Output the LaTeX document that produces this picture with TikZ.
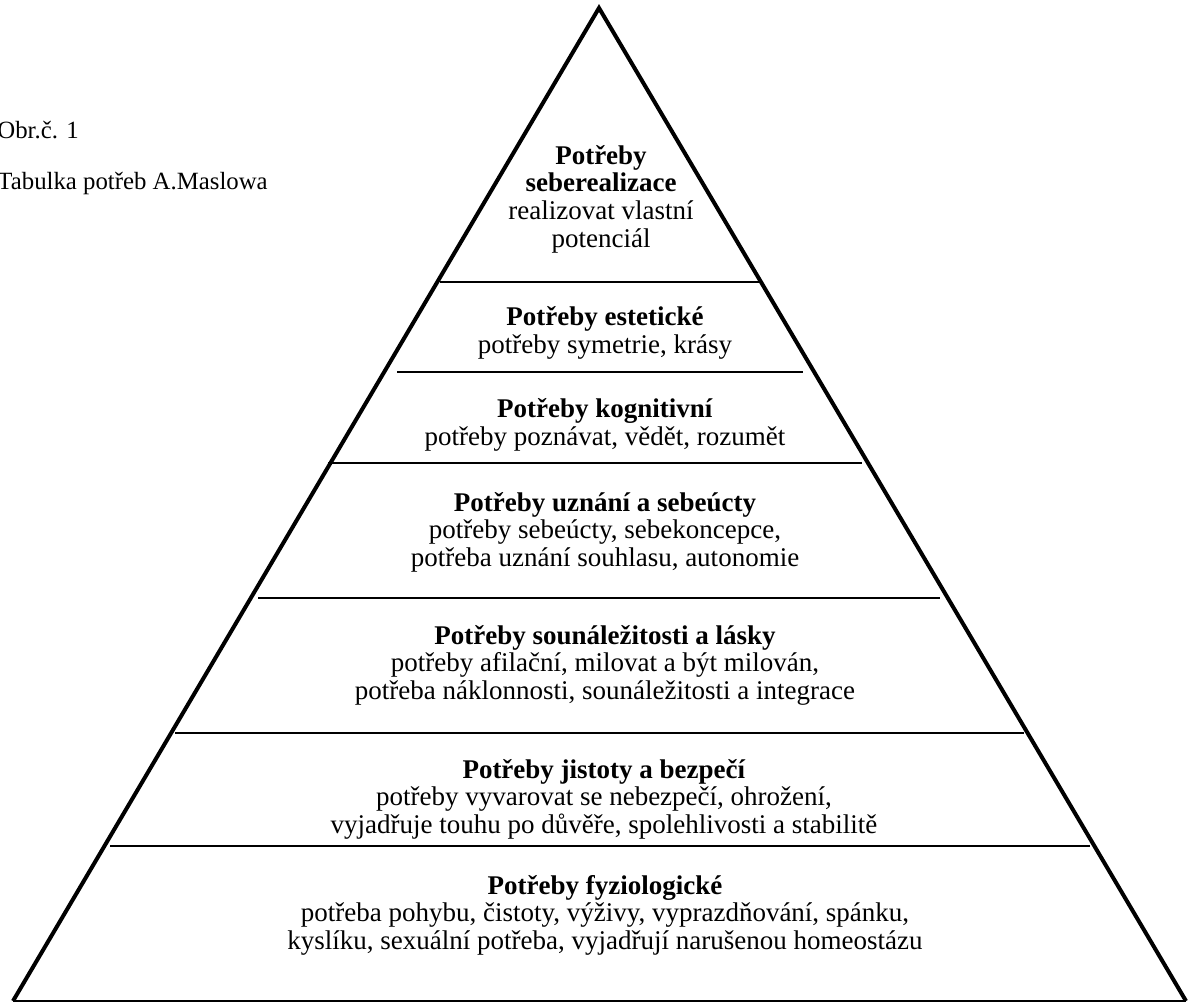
\documentclass[tikz,border=0pt]{standalone}
\usepackage{fontspec}
\setmainfont{Liberation Serif}
\usepackage{tikz}
\tikzset{level/.style={draw, line width=1pt}}

\begin{document}
\begin{tikzpicture}[x=0.5pt, y=-0.5pt, every node/.style={font=\fontsize{13.5}{13.8}\selectfont, align=center, inner sep=0pt}]
  \useasboundingbox (0, 0) rectangle (1194, 1004);

  \coordinate (top) at (599, 8);
  \coordinate (bl) at (13, 1001);
  \coordinate (br) at (1186, 1001);

  \draw[line width=2pt, line join=miter] (bl) -- (top) -- (br);
  \draw[line width=1.25pt] (bl) -- (br);

  \draw[level] (440, 282) -- (760, 282);
  \draw[level] (397, 372) -- (803, 372);
  \draw[level] (328, 463) -- (862, 463);
  \draw[level] (258, 598) -- (940, 598);
  \draw[level] (175, 733) -- (1024, 733);
  \draw[level] (110, 846) -- (1090, 846);

  \node[anchor=west, font=\fontsize{12.4}{13.8}\selectfont] at (-3, 130) (fignum) {Obr.č. 1};
  \node[anchor=west, font=\fontsize{12.4}{13.8}\selectfont] at (-3, 184) (figtitle) {Tabulka potřeb A.Maslowa};

  \node at (601, 199) (selfreal) {\textbf{Potřeby}\\ \textbf{seberealizace}\\ realizovat vlastní\\ potenciál};
  \node at (605, 333) (aesthetic) {\textbf{Potřeby estetické}\\ potřeby symetrie, krásy};
  \node at (605, 425) (cognitive) {\textbf{Potřeby kognitivní}\\ potřeby poznávat, vědět, rozumět};
  \node at (605, 532) (esteem) {\textbf{Potřeby uznání a sebeúcty}\\ potřeby sebeúcty, sebekoncepce,\\ potřeba uznání souhlasu, autonomie};
  \node at (605, 665) (belonging) {\textbf{Potřeby sounáležitosti a lásky}\\ potřeby afilační, milovat a být milován,\\ potřeba náklonnosti, sounáležitosti a integrace};
  \node at (604, 799) (safety) {\textbf{Potřeby jistoty a bezpečí}\\ potřeby vyvarovat se nebezpečí, ohrožení,\\ vyjadřuje touhu po důvěře, spolehlivosti a stabilitě};
  \node at (605, 915) (physio) {\textbf{Potřeby fyziologické}\\ potřeba pohybu, čistoty, výživy, vyprazdňování, spánku,\\ kyslíku, sexuální potřeba, vyjadřují narušenou homeostázu};
\end{tikzpicture}
\end{document}
